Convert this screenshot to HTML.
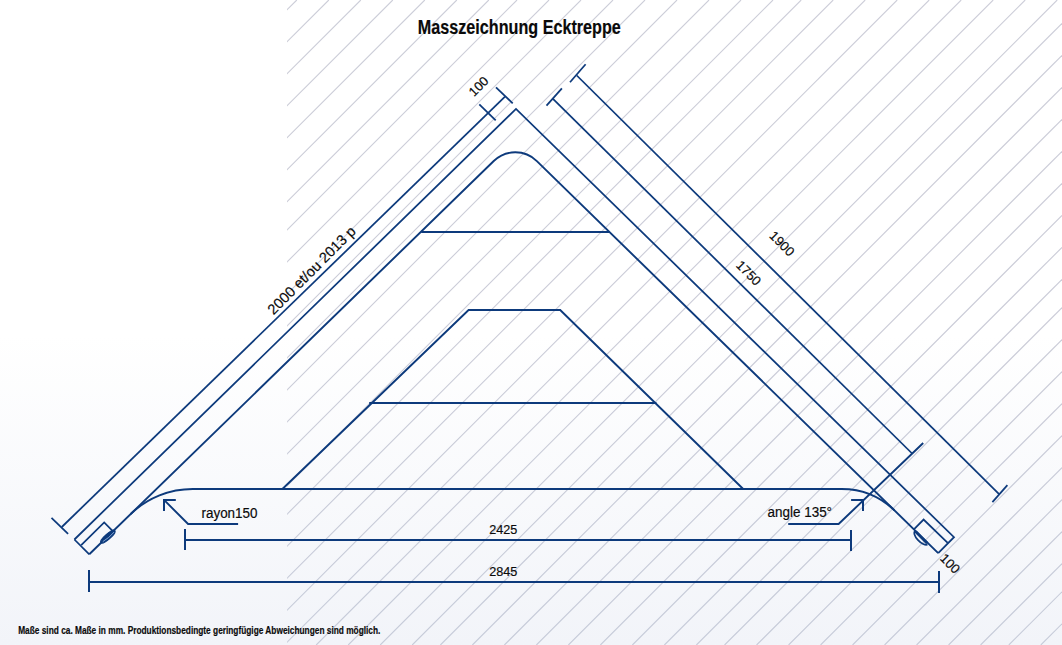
<!DOCTYPE html>
<html><head><meta charset="utf-8"><style>
html,body{margin:0;padding:0;}
body{width:1062px;height:645px;overflow:hidden;position:relative;
background:linear-gradient(to bottom,#ffffff 0px,#ffffff 335px,#f2f4f9 645px);}
svg{position:absolute;left:0;top:0;}
text{font-family:"Liberation Sans",sans-serif;fill:#0a0a0a;}
.lb text{stroke:#0a0a0a;stroke-width:0.18px;}
</style></head><body>
<svg width="1062" height="645" viewBox="0 0 1062 645">
<defs><linearGradient id="hg" gradientUnits="userSpaceOnUse" x1="0" y1="0" x2="0" y2="645">
<stop offset="0" stop-color="#cccdd8"/><stop offset="0.52" stop-color="#cacbd7"/><stop offset="1" stop-color="#c6cbd9"/></linearGradient><clipPath id="hc"><rect x="287" y="0" width="775" height="645"/></clipPath></defs>
<g stroke="url(#hg)" stroke-width="1.1" fill="none" clip-path="url(#hc)">
<line x1="285.00" y1="11.80" x2="296.80" y2="0.00"/>
<line x1="285.00" y1="43.80" x2="328.80" y2="0.00"/>
<line x1="285.00" y1="75.80" x2="360.80" y2="0.00"/>
<line x1="285.00" y1="107.80" x2="392.80" y2="0.00"/>
<line x1="285.00" y1="139.80" x2="424.80" y2="0.00"/>
<line x1="285.00" y1="171.80" x2="456.80" y2="0.00"/>
<line x1="285.00" y1="203.80" x2="488.80" y2="0.00"/>
<line x1="285.00" y1="232.00" x2="517.00" y2="0.00"/>
<line x1="285.00" y1="264.00" x2="549.00" y2="0.00"/>
<line x1="285.00" y1="296.00" x2="581.00" y2="0.00"/>
<line x1="285.00" y1="328.00" x2="613.00" y2="0.00"/>
<line x1="285.00" y1="360.00" x2="645.00" y2="0.00"/>
<line x1="285.00" y1="392.00" x2="677.00" y2="0.00"/>
<line x1="285.00" y1="424.00" x2="709.00" y2="0.00"/>
<line x1="285.00" y1="456.00" x2="741.00" y2="0.00"/>
<line x1="285.00" y1="488.00" x2="773.00" y2="0.00"/>
<line x1="285.00" y1="516.20" x2="801.20" y2="0.00"/>
<line x1="285.00" y1="548.20" x2="833.20" y2="0.00"/>
<line x1="285.00" y1="580.20" x2="865.20" y2="0.00"/>
<line x1="285.00" y1="612.20" x2="897.20" y2="0.00"/>
<line x1="285.00" y1="644.20" x2="929.20" y2="0.00"/>
<line x1="316.20" y1="645.00" x2="961.20" y2="0.00"/>
<line x1="348.20" y1="645.00" x2="993.20" y2="0.00"/>
<line x1="380.20" y1="645.00" x2="1025.20" y2="0.00"/>
<line x1="412.20" y1="645.00" x2="1057.20" y2="0.00"/>
<line x1="440.40" y1="645.00" x2="1062.00" y2="23.40"/>
<line x1="472.40" y1="645.00" x2="1062.00" y2="55.40"/>
<line x1="504.40" y1="645.00" x2="1062.00" y2="87.40"/>
<line x1="536.40" y1="645.00" x2="1062.00" y2="119.40"/>
<line x1="568.40" y1="645.00" x2="1062.00" y2="151.40"/>
<line x1="600.40" y1="645.00" x2="1062.00" y2="183.40"/>
<line x1="632.40" y1="645.00" x2="1062.00" y2="215.40"/>
<line x1="664.40" y1="645.00" x2="1062.00" y2="247.40"/>
<line x1="696.40" y1="645.00" x2="1062.00" y2="279.40"/>
<line x1="724.60" y1="645.00" x2="1062.00" y2="307.60"/>
<line x1="756.60" y1="645.00" x2="1062.00" y2="339.60"/>
<line x1="788.60" y1="645.00" x2="1062.00" y2="371.60"/>
<line x1="820.60" y1="645.00" x2="1062.00" y2="403.60"/>
<line x1="852.60" y1="645.00" x2="1062.00" y2="435.60"/>
<line x1="884.60" y1="645.00" x2="1062.00" y2="467.60"/>
<line x1="916.60" y1="645.00" x2="1062.00" y2="499.60"/>
<line x1="948.60" y1="645.00" x2="1062.00" y2="531.60"/>
<line x1="980.60" y1="645.00" x2="1062.00" y2="563.60"/>
<line x1="1008.80" y1="645.00" x2="1062.00" y2="591.80"/>
<line x1="1040.80" y1="645.00" x2="1062.00" y2="623.80"/>
</g>
<g stroke="#0d3a7c" stroke-width="2.0" fill="none" stroke-linecap="butt" stroke-linejoin="miter">
<path d="M61.8,527.0 L505.0,96.7" stroke-width="1.75"/>
<path d="M51.5,517.8 L68.1,533.8" stroke-width="1.75"/>
<path d="M479.3,104.3 L495.7,120.3" stroke-width="1.75"/>
<path d="M496.0,87.3 L512.7,103.3" stroke-width="1.75"/>
<path d="M74.4,539.5 L516.0,108.9 L954.0,537.2 L938.2,553.1" stroke-width="1.75"/>
<path d="M74.4,539.5 L89.3,554.3" stroke-width="1.75"/>
<path d="M89.3,554.3 L493.75,161.04 A30.9,30.9 0 0 1 536.87,161.09 L938.2,553.1" stroke-width="1.9"/>
<path d="M81.2,545.1 L104.2,522.5 L112.3,530.6" stroke-width="1.75"/>
<path d="M913.9,529.3 L923.6,519.6 L947.7,542.9" stroke-width="1.75"/>
<path d="M130.7,514.0 A89.5,89.5 0 0 1 193.1,489 L841.3,489 A76,76 0 0 1 894.4,510.3" stroke-width="1.9"/>
<path d="M421.2,232.0 L609.6,232.0" stroke-width="2.0"/>
<path d="M282.4,489.0 L468.6,310.0 L560.2,310.0 L743.2,489.0" stroke-width="1.9"/>
<path d="M369.2,403.0 L656.4,403.0" stroke-width="2.0"/>
<path d="M553.0,98.8 L912.1,453.5" stroke-width="1.75"/>
<path d="M546.5,105.7 L561.9,88.3" stroke-width="1.75"/>
<path d="M923.2,443.0 L838.6,524.0 L788.2,524.0" stroke-width="1.9"/>
<path d="M851.1,500.0 L864.0,500.0" stroke-width="2.0"/>
<path d="M863.0,499.0 L863.0,511.0" stroke-width="2.0"/>
<path d="M576.8,75.5 L999.1,494.1" stroke-width="1.75"/>
<path d="M570.0,82.2 L585.6,64.3" stroke-width="1.75"/>
<path d="M992.4,502.2 L1007.4,485.2" stroke-width="1.75"/>
<path d="M185.0,540.0 L851.0,540.0" stroke-width="2.0"/>
<path d="M185.0,529.0 L185.0,550.0" stroke-width="2.0"/>
<path d="M851.0,530.0 L851.0,551.0" stroke-width="2.0"/>
<path d="M89.0,582.0 L939.0,582.0" stroke-width="2.0"/>
<path d="M89.0,570.0 L89.0,592.0" stroke-width="2.0"/>
<path d="M939.0,571.0 L939.0,593.0" stroke-width="2.0"/>
<path d="M238.1,524.0 L188.1,524.0 L164.5,500.4" stroke-width="1.9"/>
<path d="M163.0,500.0 L175.8,500.0" stroke-width="2.0"/>
<path d="M164.0,499.0 L164.0,511.0" stroke-width="2.0"/>
<ellipse cx="107.9" cy="536.6" rx="9.3" ry="2.7" transform="rotate(-41 107.9 536.6)" fill="#0d3a7c" stroke-width="1"/>
<path d="M102.8,541.6 Q109,538 114,532.2" stroke="#8fb0dc" stroke-width="0.9"/>
<path d="M915.2,531 A9.2,4 45 0 0 927.5,544.6" stroke-width="1.7"/>
<path d="M915.6,531.4 L927.2,543.2" stroke-width="2.8"/>
</g>
<g font-size="13" class="lb">
<text x="0" y="0" font-weight="bold" font-size="19.5" fill="#111" stroke="#111" stroke-width="0.25" transform="translate(417.8,34) scale(0.829,1)">Masszeichnung Ecktreppe</text>
<text x="0" y="0" font-weight="bold" font-size="10.4" fill="#000" stroke="#000" stroke-width="0.2" transform="translate(18.2,633.6) scale(0.80,1)">Maße sind ca. Maße in mm. Produktionsbedingte geringfügige Abweichungen sind möglich.</text>
<text x="201.5" y="517.5" font-size="14" textLength="56" lengthAdjust="spacingAndGlyphs">rayon150</text>
<text x="767.5" y="516.5" font-size="14" textLength="64.5" lengthAdjust="spacingAndGlyphs">angle 135°</text>
<text x="489.2" y="533.8" font-size="12.6" textLength="28.2" lengthAdjust="spacingAndGlyphs">2425</text>
<text x="489.2" y="575.7" font-size="12.4" textLength="28.2" lengthAdjust="spacingAndGlyphs">2845</text>
<text text-anchor="middle" transform="translate(311.7,270.5) rotate(-45)" dy="4.7" font-size="14.6">2000 et/ou 2013 p</text>
<text text-anchor="middle" transform="translate(478.6,86.3) rotate(-45)" dy="4.5">100</text>
<text text-anchor="middle" transform="translate(782,243.6) rotate(45)" dy="4.5">1900</text>
<text text-anchor="middle" transform="translate(748.6,273) rotate(45)" dy="4.5">1750</text>
<text text-anchor="middle" transform="translate(950,563.5) rotate(45)" dy="4.5">100</text>
</g>
</svg>
</body></html>
